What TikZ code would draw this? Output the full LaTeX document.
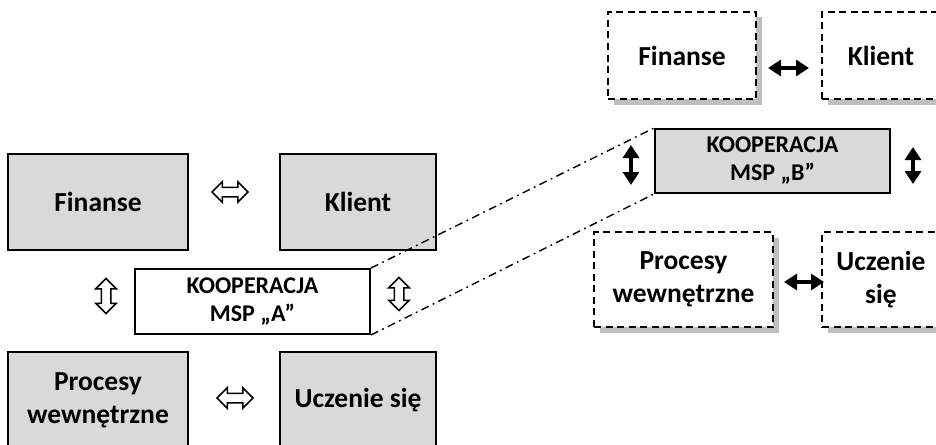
\documentclass[tikz,border=0pt]{standalone}
\usepackage{fontspec}
\setmainfont{Carlito}
\usetikzlibrary{arrows.meta,shapes.arrows,shadows,calc}
\definecolor{boxgrey}{HTML}{D9D9D9}
\definecolor{shadowgrey}{HTML}{BFBFBF}
\begin{document}
\begin{tikzpicture}[x=1pt,y=-1pt,
  card/.style={draw=black, line width=2pt, inner sep=0pt, align=center,
    font=\fontsize{27.5}{33}\selectfont\bfseries},
  solidcard/.style={card, fill=boxgrey},
  dashcard/.style={card, fill=white, dash pattern=on 7pt off 4.5pt,
    drop shadow={shadow xshift=5.5pt, shadow yshift=-5.5pt, fill=shadowgrey, opacity=1}},
  coop/.style={card, font=\fontsize{24}{28}\selectfont\bfseries},
  hollow/.style={double arrow, draw=black, fill=white, line width=1.5pt,
    inner xsep=0pt, inner ysep=4pt, double arrow head extend=5.5pt,
    double arrow tip angle=90},
  solidlink/.style={line width=3.2pt,
    {Triangle[width=16pt,length=13pt]}-{Triangle[width=16pt,length=13pt]}},
  bridge/.style={line width=1.4pt, dash pattern=on 8pt off 4.5pt on 1.8pt off 4.5pt}
]
\path[use as bounding box, clip] (0,0) rectangle (936,444);

% left group: cooperation of firm A
\node[solidcard, minimum width=180pt, minimum height=96pt] (finA) at (98,202) {Finanse};
\node[solidcard, minimum width=156pt, minimum height=96pt] (kliA) at (358,202) {Klient};
\node[solidcard, minimum width=180pt, minimum height=96pt] (proA) at (98,400) {Procesy\\wewnętrzne};
\node[solidcard, minimum width=156pt, minimum height=96pt] (uczA) at (358,400) {Uczenie się};
\node[coop, fill=white, minimum width=235pt, minimum height=65pt] (coopA) at (252.5,301.5) {KOOPERACJA\\MSP „A”};

\node[hollow, minimum height=36pt] (hTop) at (230,192) {};
\node[hollow, minimum height=36pt] (hBot) at (235,398) {};
\node[hollow, minimum height=35pt, rotate=90] (vLeft) at (106,296) {};
\node[hollow, minimum height=33pt, rotate=90] (vRight) at (399,294) {};

% right group: cooperation of firm B
\node[dashcard, minimum width=148pt, minimum height=87pt] (finB) at (682,55.5) {Finanse};
\node[dashcard, minimum width=118pt, minimum height=87pt] (kliB) at (881,55.5) {Klient};
\node[dashcard, minimum width=179pt, minimum height=95pt] (proB) at (683.5,279.5) {Procesy\\wewnętrzne};
\node[dashcard, minimum width=118pt, minimum height=95pt] (uczB) at (881,279.5) {Uczenie\\się};
\node[coop, fill=boxgrey, minimum width=235pt, minimum height=64pt] (coopB) at (772.5,161) {KOOPERACJA\\MSP „B”};

\draw[solidlink] ($(finB.east)+(11,12.5)$) -- ($(kliB.west)+(-12,12.5)$);
\draw[solidlink] ($(proB.east)+(10,2.5)$) -- ($(uczB.west)+(3,2.5)$);
\draw[solidlink] ($(coopB.west)+(-23,-16)$) -- ($(coopB.west)+(-23,24)$);
\draw[solidlink] ($(coopB.east)+(22,-14)$) -- ($(coopB.east)+(22,23)$);

% projection lines between the two cooperation boxes
\draw[bridge] (coopA.north east) -- (coopB.north west);
\draw[bridge] (coopA.south east) -- (coopB.south west);
\end{tikzpicture}
\end{document}
